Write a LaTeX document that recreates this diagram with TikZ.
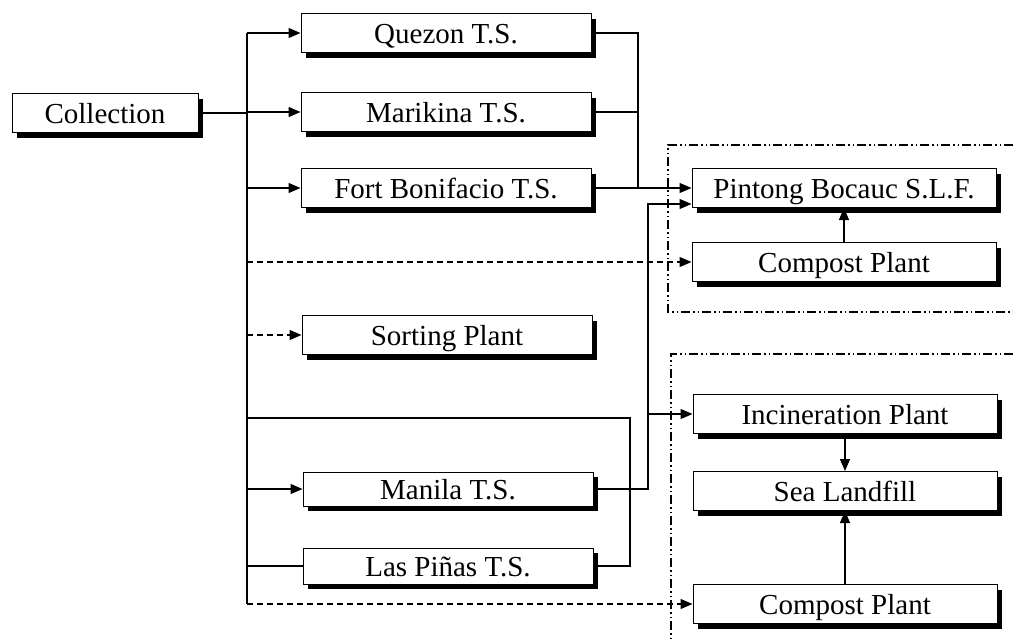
\documentclass[tikz,border=0pt]{standalone}
\usepackage{fontspec}
\setmainfont{Liberation Serif}
\usetikzlibrary{arrows.meta, positioning, shadows}

\begin{document}
\begin{tikzpicture}[
    x=1pt, y=-1pt,
    block/.style={rectangle, draw, line width=1pt, fill=white, inner sep=0pt, minimum height=39pt, text height=21pt, text depth=0pt, font=\fontsize{29}{32}\selectfont, drop shadow={shadow xshift=5pt, shadow yshift=-5pt, opacity=1, fill=black}},
    tsbox/.style={block, minimum width=290pt},
    plantbox/.style={block, minimum width=304pt},
    arrow/.style={draw, line width=1.2pt, -{Triangle[length=12pt,width=10pt]}},
    line/.style={draw, line width=1.2pt},
    dasharrow/.style={arrow, dash pattern=on 6pt off 4pt},
    group/.style={draw, line width=1.2pt, dash pattern=on 9pt off 3pt on 1.5pt off 3pt on 1.5pt off 3pt}
]
\useasboundingbox (0,0) rectangle (1013,638);

\node[block, minimum width=186pt] (collection) at (105,113) {Collection};
\node[tsbox] (quezon) at (446,33) {Quezon T.S.};
\node[tsbox] (marikina) at (446,112) {Marikina T.S.};
\node[tsbox] (fort) at (446,188) {Fort Bonifacio T.S.};
\node[tsbox] (sorting) at (447,335) {Sorting Plant};
\node[tsbox, minimum height=34pt] (manila) at (448,489) {Manila T.S.};
\node[tsbox, minimum height=36pt] (laspinas) at (448,566) {Las Piñas T.S.};

\node[plantbox] (pintong) at (844,188) {Pintong Bocauc S.L.F.};
\node[plantbox] (compostA) at (844,262) {Compost Plant};
\node[plantbox] (incin) at (845,414) {Incineration Plant};
\node[plantbox] (sea) at (845,491) {Sea Landfill};
\node[plantbox] (compostB) at (845,604) {Compost Plant};

\coordinate (trunk) at (247,0);
\coordinate (mergeA) at (638,0);
\coordinate (mergeB) at (648,0);
\coordinate (loop) at (630,418);
\coordinate (pinlow) at ([yshift=4pt]pintong.south west);

\path[group] (1013,145) -- (668,145) -- (668,312) -- (1013,312);
\path[group] (1013,354) -- (671,354) -- (671,638);

\draw[line] (collection.east) -- (collection.east -| trunk);
\draw[line] (quezon.west -| trunk) -- (compostB.west -| trunk);
\draw[arrow] (quezon.west -| trunk) -- (quezon.west);
\draw[arrow] (marikina.west -| trunk) -- (marikina.west);
\draw[arrow] (fort.west -| trunk) -- (fort.west);
\draw[dasharrow] (compostA.west -| trunk) -- (compostA.west);
\draw[dasharrow] (sorting.west -| trunk) -- (sorting.west);
\draw[arrow] (manila.west -| trunk) -- (manila.west);
\draw[line] (laspinas.west -| trunk) -- (laspinas.west);
\draw[dasharrow] (compostB.west -| trunk) -- (compostB.west);

\draw[line] (quezon.east) -| (fort.east -| mergeA);
\draw[line] (marikina.east) -- (marikina.east -| mergeA);
\draw[arrow] (fort.east) -- (pintong.west);

\draw[arrow] (manila.east) -| (pinlow -| mergeB) -- (pinlow);
\draw[arrow] (incin.west -| mergeB) -- (incin.west);

\draw[line] (loop -| trunk) -- (loop) |- (laspinas.east);

\draw[arrow] (compostA.north) -- (pintong.south);
\draw[arrow] (incin.south) -- (sea.north);
\draw[arrow] (compostB.north) -- (sea.south);

\end{tikzpicture}
\end{document}
